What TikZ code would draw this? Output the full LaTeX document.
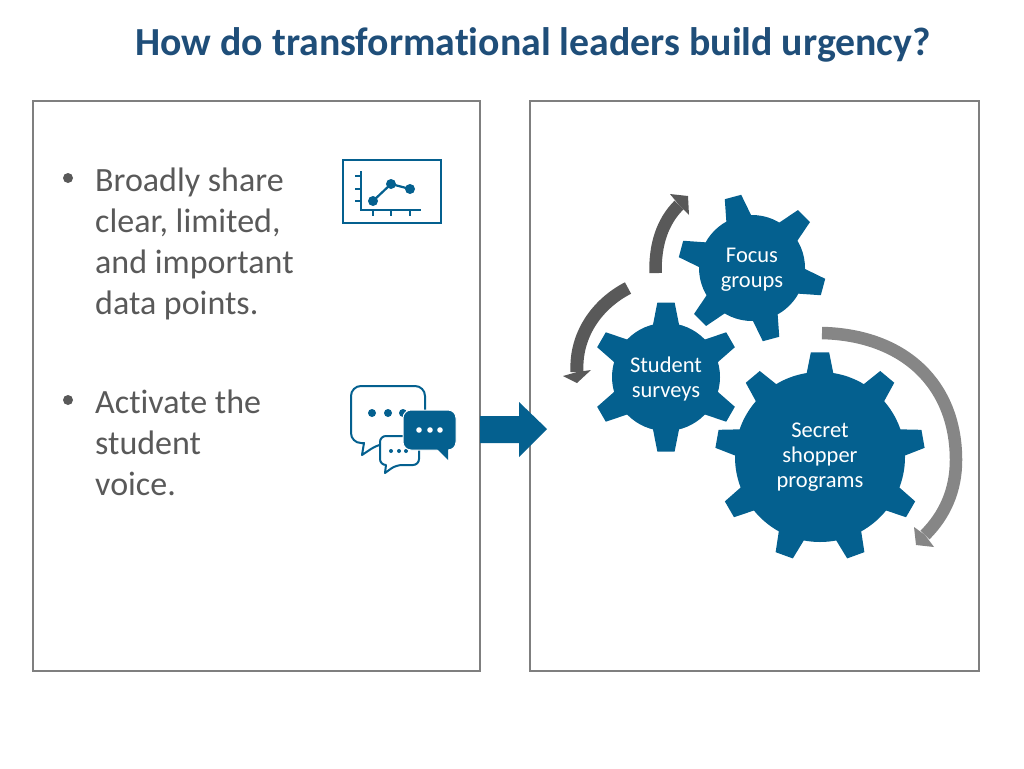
\documentclass[tikz,border=0pt]{standalone}
\usepackage{fontspec}
\setmainfont[RawFeature=-liga]{Carlito}
\definecolor{gearblue}{HTML}{04608F}
\definecolor{titleblue}{HTML}{1F4E79}
\definecolor{bodygray}{HTML}{595959}
\definecolor{framegray}{HTML}{7F7F7F}
\definecolor{darkarc}{HTML}{595959}
\definecolor{lightarc}{HTML}{868686}
\newcommand{\gearbody}[7]{% centre, R, outer, teeth, first angle, base half, tip half
  \begin{scope}[shift={#1},x=1pt,y=1pt]
    \fill[gearblue] (0,0) circle (#2);
    \foreach \k in {1,...,#4} {
      \pgfmathsetmacro{\ang}{#5+(\k-1)*360/#4}
      \fill[gearblue] ({\ang-#6}:#2-2) -- ({\ang-#7}:#3) -- ({\ang+#7}:#3) -- ({\ang+#6}:#2-2) -- cycle;
    }
  \end{scope}}
\tikzset{
  panel/.style={draw=framegray,line width=1.3pt},
  bullettext/.style={text=bodygray,font=\fontsize{34}{41}\selectfont,align=left,anchor=north west,inner sep=0pt},
  geartext/.style={text=white,font=\fontsize{22.5}{25}\selectfont,align=center,inner sep=0pt},
  icon/.style={draw=gearblue,line width=2.2pt},
  bubble/.style={draw=gearblue,line width=2pt,fill=white,line join=round,rounded corners=10pt}
}
\begin{document}
\begin{tikzpicture}[x=1pt,y=-1pt]
  \useasboundingbox (0,0) rectangle (1024,768);
  % title
  \node[text=titleblue,font=\fontsize{39.8}{44}\selectfont\bfseries,inner sep=0pt] (title) at (533,45) {How do transformational leaders build urgency?};
  % panels
  \draw[panel] (33,101) rectangle (480,671);
  \draw[panel] (530,101) rectangle (979,671);
  % left panel text
  \node[bullettext] (share) at (95,168) {Broadly share\\clear, limited,\\and important\\data points.};
  \node[bullettext] (voice) at (95,390) {Activate the\\student\\voice.};
  \fill[bodygray] (68,178) circle (5) coordinate (dotone);
  \fill[bodygray] (68,400) circle (5) coordinate (dottwo);
  % chart icon
  \draw[icon] (343,160) rectangle (441,223);
  \draw[icon] (361,171) -- (361,210) -- (421,210);
  \foreach \y in {176,189,201} \draw[icon] (355,\y) -- (361,\y);
  \foreach \x in {373,391,410} \draw[icon] (\x,210) -- (\x,216);
  \draw[icon] (373,201) -- (391,184) -- (410,189);
  \foreach \x/\y in {373/201,391/184,410/189} \fill[gearblue] (\x,\y) circle (5);
  % speech bubbles
  \draw[bubble] (351,386) -- (425,386) -- (425,443) -- (380,443) [sharp corners] -- (362,455) -- (364,443) [rounded corners=10pt] -- (351,443) -- cycle;
  \foreach \x in {372,388,403} \fill[gearblue] (\x,413) circle (4);
  \draw[bubble,rounded corners=6pt] (380,436) -- (419,436) -- (419,465) -- (396,465) [sharp corners] -- (385,473) -- (386,465) [rounded corners=6pt] -- (380,465) -- cycle;
  \foreach \x in {391,399,406} \fill[gearblue] (\x,451) circle (2);
  \fill[gearblue,draw=white,line width=1pt,rounded corners=8pt] (403,410) rectangle (456,450);
  \fill[gearblue] (436,448) -- (448,460) -- (448,448) -- cycle;
  \foreach \x in {419,430,440} \fill[white] (\x,430) circle (2.8);
  % block arrow
  \fill[gearblue] (480,416) -- (519,416) -- (519,402) -- (547,429) -- (519,457) -- (519,443) -- (480,443) -- cycle;
  % gears
  \gearbody{(752,268)}{53}{74}{6}{105}{15}{6.6}
  \gearbody{(666,377)}{54}{75}{6}{90}{15}{6.6}
  \gearbody{(820,457)}{85}{105}{9}{90}{9.5}{5}
  \node[geartext] (focus) at (752,270) {Focus\\groups};
  \node[geartext] (survey) at (666,379) {Student\\surveys};
  \node[geartext] (secret) at (820,457) {Secret\\shopper\\programs};
  % curved arrows
  \draw[darkarc,line width=12.5pt] (655.5,273) .. controls (655,245) and (662,222) .. (679,205);
  \fill[darkarc] (688,196) -- (670,194) -- (679,205) -- (689,215) -- cycle;
  \draw[darkarc,line width=13pt] (628,288) .. controls (597,304) and (575,335) .. (577,372);
  \fill[darkarc] (577,383) -- (563,376) -- (577,372) -- (591,370) -- cycle;
  \draw[lightarc,line width=12.5pt] (822,333) .. controls (905,335) and (956,385) .. (956,460) .. controls (956,490) and (945,515) .. (925,535);
  \fill[lightarc] (916,545) -- (914,527) -- (925,535) -- (934,547) -- cycle;
\end{tikzpicture}
\end{document}
